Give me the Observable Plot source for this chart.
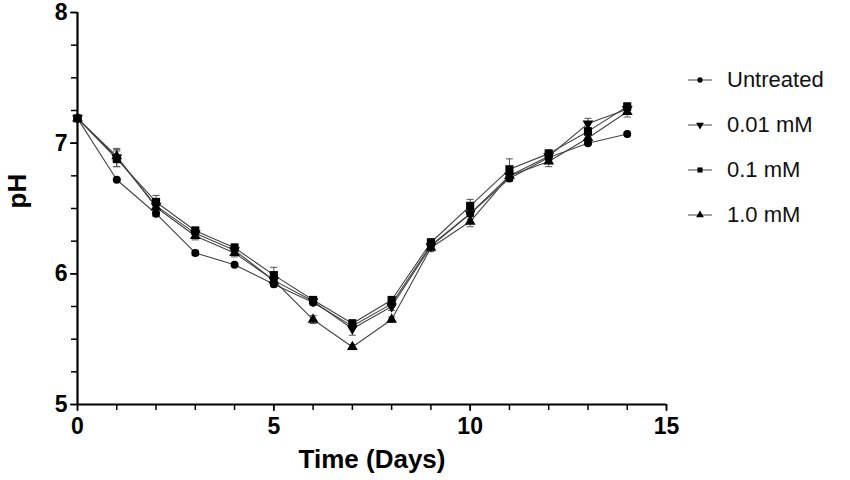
<!DOCTYPE html>
<html>
<head>
<meta charset="utf-8">
<script src="https://cdn.jsdelivr.net/npm/d3@7"></script>
<script src="https://cdn.jsdelivr.net/npm/@observablehq/plot@0.6"></script>
<style>
  html, body { margin: 0; padding: 0; background: #fff; }
  #wrap { position: relative; width: 850px; height: 480px; }
  #legend { position: absolute; left: 686px; top: 0; font-family: "Liberation Sans", Arial, sans-serif; font-size: 22px; color: #111; }
  .item { position: absolute; left: 0; display: flex; align-items: center; white-space: nowrap; }
  .item svg { margin-right: 13px; }
</style>
</head>
<body>
<div id="wrap"><div id="legend"></div></div>
<script>
const days = [0, 1, 2, 3, 4, 5, 6, 7, 8, 9, 10, 11, 12, 13, 14];
const seriesNames = ["Untreated", "0.01 mM", "0.1 mM", "1.0 mM"];
const untreated = [7.19, 6.72, 6.46, 6.16, 6.07, 5.92, 5.78, 5.60, 5.77, 6.22, 6.46, 6.73, 6.89, 7.00, 7.07];
const mM001     = [7.19, 6.89, 6.52, 6.31, 6.18, 5.95, 5.79, 5.58, 5.75, 6.21, 6.46, 6.75, 6.90, 7.15, 7.26];
const mM01      = [7.19, 6.88, 6.55, 6.33, 6.20, 5.99, 5.80, 5.62, 5.80, 6.24, 6.52, 6.80, 6.92, 7.09, 7.28];
const mM10      = [7.19, 6.90, 6.51, 6.29, 6.16, 5.95, 5.65, 5.44, 5.65, 6.20, 6.40, 6.75, 6.86, 7.04, 7.24];
const errUntreated = [0, 0.01, 0.02, 0.02, 0.01, 0.02, 0.02, 0.02, 0.02, 0.02, 0.02, 0.02, 0.02, 0.01, 0.01];
const err001       = [0, 0.07, 0.04, 0.03, 0.03, 0.04, 0.02, 0.05, 0.03, 0.03, 0.04, 0.04, 0.03, 0.04, 0.03];
const err01        = [0, 0.06, 0.05, 0.03, 0.03, 0.06, 0.02, 0.03, 0.02, 0.03, 0.05, 0.08, 0.03, 0.03, 0.03];
const err10        = [0, 0.05, 0.04, 0.03, 0.03, 0.03, 0.03, 0.02, 0.02, 0.03, 0.04, 0.04, 0.04, 0.03, 0.04];
const xTicks = [0, 5, 10, 15];
const yTicks = [5, 6, 7, 8];

const symbols = ["circle", "triangle", "square", "triangle"];
const rotations = [0, 180, 0, 0];
const sizes = [4.0, 4.0, 4.6, 4.0];

const valueSets = [untreated, mM001, mM01, mM10];
const errSets = [errUntreated, err001, err01, err10];
const data = [];
seriesNames.forEach((s, i) => {
  days.forEach((d, j) => {
    data.push({series: s, idx: i, day: d, ph: valueSets[i][j], lo: valueSets[i][j] - errSets[i][j], hi: valueSets[i][j] + errSets[i][j]});
  });
});
const errData = data.filter(d => d.hi > d.lo);

const cap = {draw(ctx, size) { const w = Math.sqrt(size) / 2; ctx.moveTo(-w, 0); ctx.lineTo(w, 0); }};

const font = '"Liberation Sans", Arial, Helvetica, sans-serif';

const plot = Plot.plot({
  width: 850,
  height: 480,
  marginLeft: 77,
  marginRight: 184,
  marginTop: 12,
  marginBottom: 76,
  style: {fontFamily: font, background: "#fff", overflow: "visible"},
  x: {domain: [0, 15]},
  y: {domain: [5, 8]},
  marks: [
    Plot.axisX({ticks: d3.range(0, 16, 1), tickSize: 6, tickFormat: () => "", stroke: "#000", strokeWidth: 1.5, label: null}),
    Plot.axisX({ticks: xTicks, tickSize: 7, tickPadding: 6, tickFormat: d3.format("d"), stroke: "#000", strokeWidth: 1.5, fill: "#000", fontSize: 23, fontWeight: "bold", label: null}),
    Plot.text(["Time (Days)"], {frameAnchor: "bottom", dy: 63, fontSize: 26, fontWeight: "bold", fill: "#000", lineAnchor: "bottom"}),
    Plot.axisY({ticks: d3.range(5, 8.01, 0.25), tickSize: 6, tickFormat: () => "", stroke: "#000", strokeWidth: 1.5, label: null}),
    Plot.axisY({ticks: yTicks, tickSize: 7, tickPadding: 3, tickFormat: d3.format("d"), stroke: "#000", strokeWidth: 1.5, fill: "#000", fontSize: 23, fontWeight: "bold", label: null}),
    Plot.text(["pH"], {frameAnchor: "left", dx: -60, rotate: -90, fontSize: 26, fontWeight: "bold", fill: "#000"}),
    Plot.ruleX([0], {stroke: "#000", strokeWidth: 2.2}),
    Plot.ruleY([5], {stroke: "#000", strokeWidth: 2.2}),
    Plot.ruleX(errData, {x: "day", y1: "lo", y2: "hi", stroke: "#555", strokeWidth: 1}),
    Plot.dot(errData, {x: "day", y: "lo", symbol: cap, r: 4, stroke: "#555", strokeWidth: 1}),
    Plot.dot(errData, {x: "day", y: "hi", symbol: cap, r: 4, stroke: "#555", strokeWidth: 1}),
    Plot.line(data, {x: "day", y: "ph", z: "series", stroke: "#444", strokeWidth: 1.1}),
    ...seriesNames.map((s, i) => Plot.dot(data.filter(d => d.idx === i), {x: "day", y: "ph", symbol: symbols[i], rotate: rotations[i], r: sizes[i], fill: "#000", stroke: "none"}))
  ]
});
d3.select(plot).selectAll('g[aria-label$="tick label"]').attr("font-size", 23).attr("font-weight", "bold");
document.getElementById("wrap").prepend(plot);

// legend
const legend = document.getElementById("legend");
const tops = [80, 125, 170, 215];
seriesNames.forEach((s, i) => {
  const item = document.createElement("div");
  item.className = "item";
  item.style.top = (tops[i] - 14) + "px";
  item.style.height = "28px";
  const sym = d3.symbol().type({circle: d3.symbolCircle, triangle: d3.symbolTriangle, square: d3.symbolSquare}[symbols[i]]).size(i === 0 ? 22 : 26)();
  item.innerHTML = `<svg width="28" height="28" viewBox="0 0 28 28"><line x1="2" y1="14" x2="26" y2="14" stroke="#444" stroke-width="1"/><path d="${sym}" transform="translate(14,14) rotate(${rotations[i]})" fill="#000"/></svg><span>${s}</span>`;
  legend.appendChild(item);
});
</script>
</body>
</html>
